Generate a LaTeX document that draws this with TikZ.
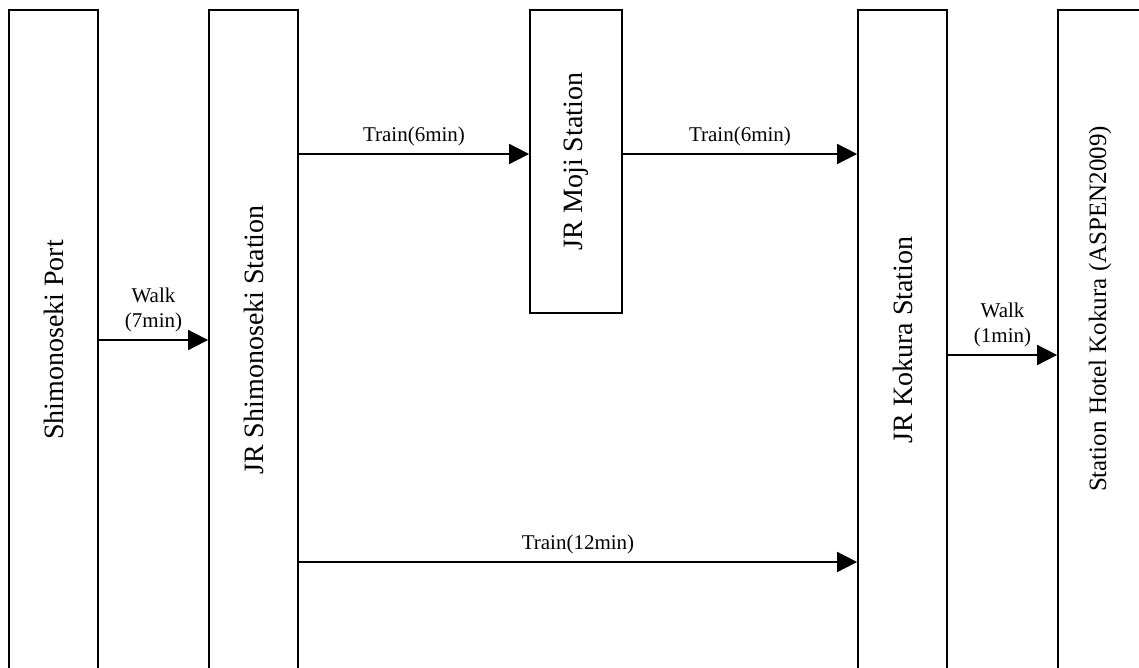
\documentclass[tikz,border=0pt]{standalone}
\usepackage{fontspec}
\setmainfont{Liberation Serif}
\usepackage{graphicx}
\usepackage{tikz}
\usetikzlibrary{arrows.meta, calc}

\begin{document}
\begin{tikzpicture}[x=1pt, y=-1pt,
    station/.style={draw, line width=1.8pt, minimum width=89pt, inner sep=0pt,
        font=\fontsize{28}{30}\selectfont},
    route/.style={line width=1.8pt, -{Triangle[length=20pt, width=20pt]}},
    routelabel/.style={midway, above=6pt, inner sep=1pt, align=center,
        font=\fontsize{21}{25}\selectfont}]
            \useasboundingbox (0,0) rectangle (1139,668);

            % Draw the stations
            \node[station, minimum height=660pt] (port) at (53.5,340) {\rotatebox{90}{Shimonoseki Port}};
            \node[station, minimum height=660pt] (jrs) at (253.5,340) {\rotatebox{90}{JR Shimonoseki Station}};
            \node[station, minimum width=92pt, minimum height=303pt] (moji) at (576,161.5) {\rotatebox{90}{JR Moji Station}};
            \node[station, minimum height=660pt] (kokura) at (902.5,340) {\rotatebox{90}{JR Kokura Station}};
            \node[station, minimum height=660pt] (hotel) at (1102.5,340) {};
            \node[font=\fontsize{25}{28}\selectfont] (hotelname) at (1100,309) {\rotatebox{90}{Station Hotel Kokura (ASPEN2009)}};

            % Levels of the connections
            \coordinate (upper) at (0,154);
            \coordinate (lower) at (0,562);
            \coordinate (walklvl) at (0,355);

            % Draw the connections
            \draw[route] (port.east) -- (jrs.west) node[routelabel] {Walk\\(7min)};
            \draw[route] (jrs.east |- upper) -- (moji.west |- upper) node[routelabel] {Train(6min)};
            \draw[route] (moji.east |- upper) -- (kokura.west |- upper) node[routelabel] {Train(6min)};
            \draw[route] (jrs.east |- lower) -- (kokura.west |- lower) node[routelabel] {Train(12min)};
            \draw[route] (kokura.east |- walklvl) -- (hotel.west |- walklvl) node[routelabel] {Walk\\(1min)};
        \end{tikzpicture}
\end{document}
